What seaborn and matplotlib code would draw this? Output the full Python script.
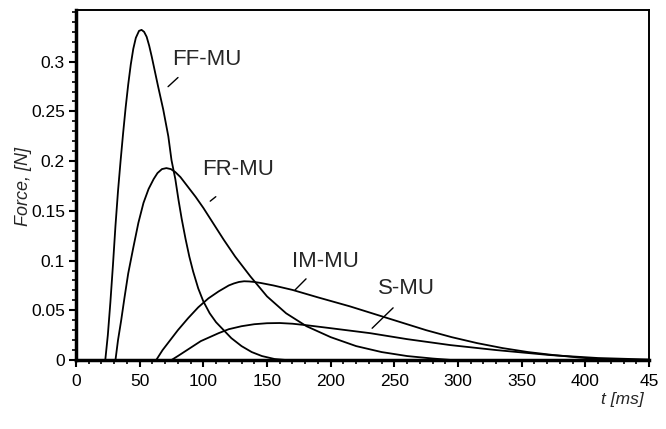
import pandas as pd
import numpy as np
import matplotlib
matplotlib.use('Agg')
import matplotlib.pyplot as plt
import seaborn as sns
from matplotlib.ticker import MultipleLocator, FixedLocator, FuncFormatter

ff_t = [23, 25, 27, 29, 31, 33, 35, 37, 39, 41, 43, 45, 47, 49.5, 51.5, 53.5, 55.5,
        57.5, 59.5, 62, 64.5, 68.5, 72.5, 75, 78, 80.5, 83, 86, 89, 92, 96, 100,
        105, 110, 116, 122, 130, 138, 146, 156, 165]
ff_f = [0, 0.025, 0.058, 0.095, 0.135, 0.17, 0.20, 0.228, 0.254, 0.277, 0.297,
        0.313, 0.324, 0.331, 0.332, 0.330, 0.325, 0.316, 0.305, 0.29, 0.275, 0.252,
        0.225, 0.201, 0.182, 0.161, 0.142, 0.122, 0.104, 0.089, 0.072, 0.059,
        0.047, 0.038, 0.03, 0.022, 0.014, 0.008, 0.004, 0.001, 0]

fr_t = [31, 33, 35.5, 38, 41, 45, 49, 53, 57, 61, 64, 67.5, 71, 74.5, 78, 82, 88,
        94, 100, 108, 116, 125, 137, 150, 165, 181, 200, 220, 240, 260, 280, 295]
fr_f = [0, 0.02, 0.04, 0.062, 0.087, 0.113, 0.138, 0.158, 0.172, 0.182, 0.188,
        0.192, 0.193, 0.192, 0.189, 0.184, 0.174, 0.164, 0.153, 0.137, 0.121,
        0.104, 0.084, 0.064, 0.047, 0.034, 0.023, 0.014, 0.008, 0.004, 0.0015, 0]

im_t = [63, 68, 74, 80, 88, 96, 104, 112, 120, 124, 128, 132, 136, 140, 145, 155,
        170, 190, 215, 235, 255, 275, 295, 315, 335, 355, 375, 395, 420]
im_f = [0, 0.01, 0.02, 0.03, 0.042, 0.053, 0.062, 0.069, 0.075, 0.077, 0.0785,
        0.0792, 0.079, 0.0785, 0.0775, 0.075, 0.0705, 0.063, 0.054, 0.046, 0.038,
        0.030, 0.023, 0.017, 0.012, 0.008, 0.005, 0.0025, 0]

s_t = [75, 80, 86, 92, 98, 105, 112, 120, 130, 140, 150, 160, 170, 181, 200, 231,
       260, 294, 330, 372, 410, 450]
s_f = [0, 0.004, 0.009, 0.014, 0.019, 0.023, 0.027, 0.031, 0.034, 0.036, 0.037,
       0.0372, 0.0365, 0.035, 0.032, 0.027, 0.021, 0.015, 0.010, 0.005, 0.002, 0.0005]

names = ['FF-MU', 'FR-MU', 'IM-MU', 'S-MU']
x_ticks = [0, 50, 100, 150, 200, 250, 300, 350, 400, 450]
x_labels = ['0', '50', '100', '150', '200', '250', '300', '350', '400', '45']
y_ticks = [0, 0.05, 0.1, 0.15, 0.2, 0.25, 0.3]

# polozenie podpisow i kresek wskazujacych (w jednostkach danych)
label_pos = {'FF-MU': (103, 0.302), 'FR-MU': (127, 0.192),
             'IM-MU': (195.6, 0.099), 'S-MU': (259.6, 0.072)}
pointer = {'FF-MU': ((81.7, 0.286), (70.7, 0.273)),
           'FR-MU': ((111.5, 0.166), (103.7, 0.158)),
           'IM-MU': ((182.2, 0.0836), (170.5, 0.0685)),
           'S-MU': ((250.6, 0.0544), (231, 0.030))}

df = pd.concat([
    pd.DataFrame({'t': ff_t, 'F': ff_f, 'curve': names[0]}),
    pd.DataFrame({'t': fr_t, 'F': fr_f, 'curve': names[1]}),
    pd.DataFrame({'t': im_t, 'F': im_f, 'curve': names[2]}),
    pd.DataFrame({'t': s_t, 'F': s_f, 'curve': names[3]}),
], ignore_index=True)

sns.set_style('ticks')
plt.rcParams['font.family'] = ['Liberation Sans', 'DejaVu Sans']

fig = plt.figure(figsize=(6.66, 4.29), dpi=100)
ax = fig.add_axes([0.1141, 0.1608, 0.8604, 0.8159])

sns.lineplot(data=df, x='t', y='F', units='curve', estimator=None, sort=False,
             color='black', lw=1.3, ax=ax)

for n in names:
    ax.text(*label_pos[n], n, ha='center', va='center', fontsize=16)
    (x0, y0), (x1, y1) = pointer[n]
    ax.annotate('', xy=(x1, y1), xytext=(x0, y0),
                arrowprops=dict(arrowstyle='-', lw=1, color='black'))

ax.set_xlim(0, 450)
ax.set_ylim(0, 0.352)
ax.set_xticks(x_ticks)
ax.set_xticklabels(x_labels)
ax.xaxis.set_minor_locator(MultipleLocator(10))
ax.yaxis.set_major_locator(FixedLocator(y_ticks))
ax.yaxis.set_minor_locator(MultipleLocator(0.01))
ax.yaxis.set_major_formatter(FuncFormatter(lambda v, p: '%g' % round(v, 3)))

ax.tick_params(which='major', direction='out', length=5, width=1.5,
               labelsize=12.5, colors='black')
ax.tick_params(which='minor', direction='out', length=3, width=1.2, colors='black')
ax.tick_params(axis='x', pad=5)
ax.tick_params(axis='y', pad=3)

for s in ['left', 'bottom']:
    ax.spines[s].set_linewidth(2.5)
for s in ['top', 'right']:
    ax.spines[s].set_linewidth(1.4)
for s in ax.spines.values():
    s.set_color('black')

ax.set_xlabel('')
ax.set_ylabel('')
fig.text(0.035, 0.565, 'Force, [N]', rotation=90, ha='center', va='center',
         fontsize=13, style='italic')
fig.text(0.966, 0.068, 't [ms]', ha='right', va='center', fontsize=12.5,
         style='italic')

fig.savefig('out.png', dpi=100)
